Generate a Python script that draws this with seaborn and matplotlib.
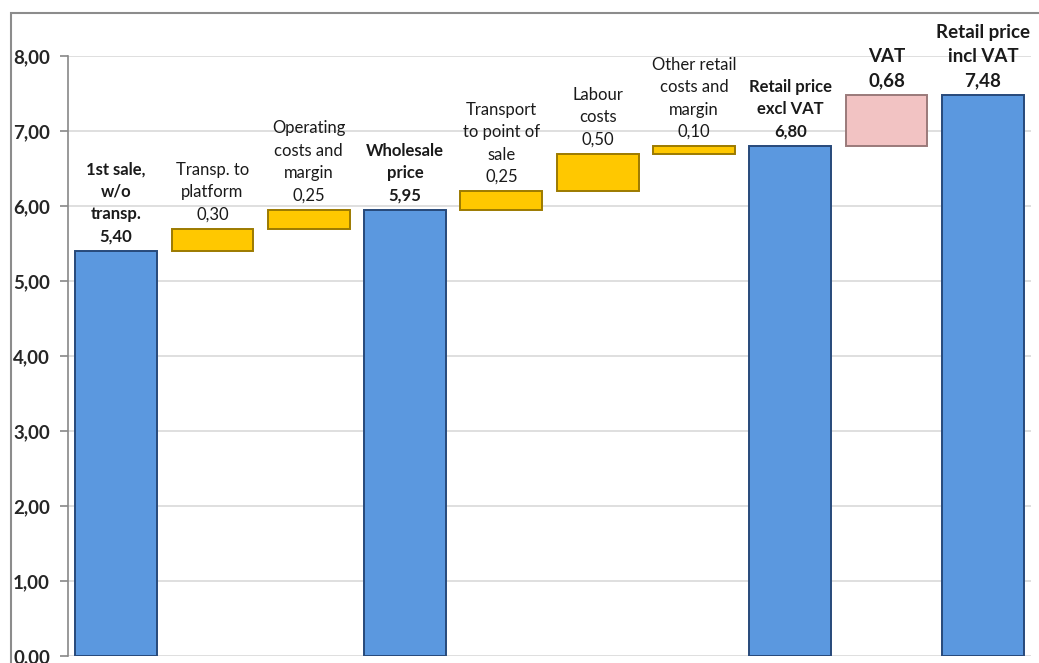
import matplotlib
matplotlib.use("Agg")
import matplotlib.pyplot as plt
import matplotlib.patches as mpatches
import seaborn as sns
import pandas as pd

# waterfall data
keys = ["first", "transp", "oper", "whole", "tpos", "labour", "other", "rexcl", "vat", "rincl"]
labels = ["1st sale,\nw/o\ntransp.", "Transp. to\nplatform", "Operating\ncosts and\nmargin",
          "Wholesale\nprice", "Transport\nto point of\nsale", "Labour\ncosts",
          "Other retail\ncosts and\nmargin", "Retail price\nexcl VAT", "VAT", "Retail price\nincl VAT"]
values = [5.40, 0.30, 0.25, 5.95, 0.25, 0.50, 0.10, 6.80, 0.68, 7.48]
bottoms = [0, 5.40, 5.70, 0, 5.95, 6.20, 6.70, 0, 6.80, 0]
kinds = ["total", "cost", "cost", "total", "cost", "cost", "cost", "total", "vat", "total"]

df = pd.DataFrame({"key": keys, "label": labels, "value": values, "bottom": bottoms, "kind": kinds})

sns.set_theme(style="white")
plt.rcParams["font.family"] = ["Lato", "DejaVu Sans"]

fig = plt.figure(figsize=(10.39, 6.63), dpi=100)
ax = fig.add_axes([68 / 1039, 7 / 663, 963 / 1039, 600 / 663])

colors = {"total": ("#5B98DF", "#27497a"), "cost": ("#FFC800", "#9c7a00"), "vat": ("#F2C3C3", "#9a7a7a")}
for kind, (face, edge) in colors.items():
    sub = df[df["kind"] == kind]
    sns.barplot(data=sub, x="key", y="value", order=keys, color=face, width=0.85,
                bottom=sub["bottom"].values, saturation=1, edgecolor=edge, linewidth=1.4,
                errorbar=None, ax=ax, zorder=3)

ax.set_ylim(0, 8)
ax.set_xlim(-0.5, len(keys) - 0.5)
ax.set_yticks(range(0, 9))
ax.set_yticklabels([f"{v},00" for v in range(0, 9)], fontsize=13.5, fontweight="bold")
ax.yaxis.grid(True, color="#d9d9d9", linewidth=1.2, zorder=0)
ax.set_axisbelow(True)
ax.tick_params(axis="y", length=6, color="#888888", width=1.2, pad=7, left=True)
ax.tick_params(axis="x", length=0, labelbottom=False)
ax.set_xlabel("")
ax.set_ylabel("")
for s in ["top", "right", "bottom"]:
    ax.spines[s].set_visible(False)
ax.spines["left"].set_color("#888888")
ax.spines["left"].set_linewidth(1.2)

# labels above the bars
for i, row in df.iterrows():
    top = row["bottom"] + row["value"]
    val = f"{row['value']:.2f}".replace(".", ",")
    bold = row["kind"] != "cost"
    size = 13.5 if row["key"] in ("vat", "rincl") else 12
    ax.text(i, top + 0.08, row["label"] + "\n" + val, ha="center", va="bottom",
            fontsize=size, fontweight="bold" if bold else "normal", linespacing=1.5,
            color="#1a1a1a", zorder=5)

# outer chart border
fig.patches.append(mpatches.Rectangle((11 / 1039, -0.05), 1.2, (663 - 13) / 663 + 0.05,
                                      transform=fig.transFigure, fill=False,
                                      edgecolor="#8c8c8c", linewidth=1.5))

fig.savefig("out.png", dpi=100)
